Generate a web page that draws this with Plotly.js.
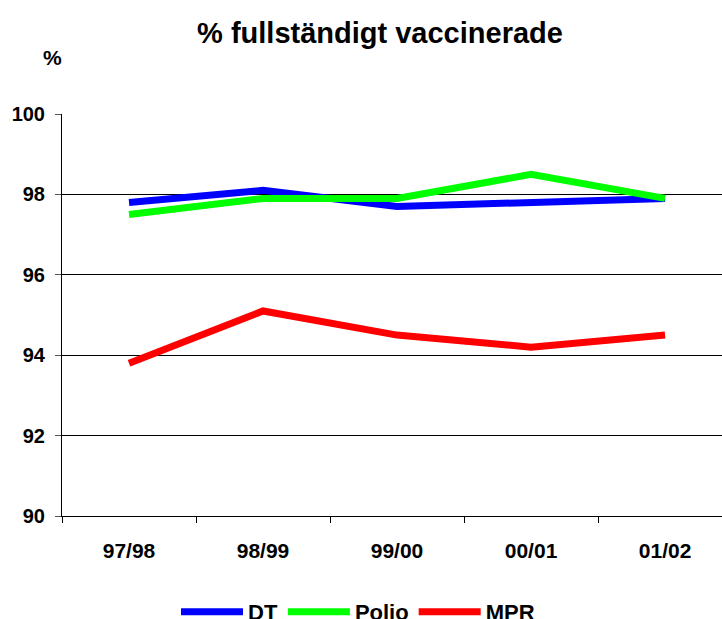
<!DOCTYPE html>
<html>
<head>
<meta charset="utf-8">
<script src="https://cdn.plot.ly/plotly-3.0.1.min.js"></script>
<style>html,body{margin:0;padding:0;background:#fff;}#chart{width:722px;height:619px;}</style>
</head>
<body>
<div id="chart"></div>
<script>
const categories = ["97/98", "98/99", "99/00", "00/01", "01/02"];
const dtValues = [97.8, 98.1, 97.7, 97.8, 97.9];
const polioValues = [97.5, 97.9, 97.9, 98.5, 97.9];
const mprValues = [93.8, 95.1, 94.5, 94.2, 94.5];
const seriesNames = ["DT", "Polio", "MPR"];
const yTicks = [90, 92, 94, 96, 98, 100];

const FONT = "Liberation Sans, Arial, sans-serif";
const colors = ["#0000ff", "#00ff00", "#ff0000"];
const allValues = [dtValues, polioValues, mprValues];

const traces = allValues.map((vals, i) => ({
  type: "scatter",
  mode: "lines",
  x: categories,
  y: vals,
  name: seriesNames[i],
  line: {color: colors[i], width: 7, shape: "linear"},
  hoverinfo: "x+y+name"
}));

const layout = {
  width: 722,
  height: 619,
  margin: {l: 62, r: 0, t: 114, b: 103, pad: 0},
  paper_bgcolor: "#ffffff",
  plot_bgcolor: "#ffffff",
  font: {family: FONT, color: "#000", size: 16, weight: "bold"},
  title: {
    text: "% fullständigt vaccinerade",
    font: {family: FONT, size: 29, color: "#000", weight: "bold"},
    xref: "container", x: 380 / 722, xanchor: "center",
    yref: "container", y: 1 - 33 / 619, yanchor: "middle"
  },
  xaxis: {
    type: "category",
    range: [-0.5, 4.425],
    tickson: "boundaries",
    ticks: "outside",
    ticklen: 6,
    tickcolor: "#000",
    showline: true,
    linecolor: "#000",
    linewidth: 1,
    showgrid: false,
    zeroline: false,
    ticklabelstandoff: 16,
    tickfont: {family: FONT, size: 21, color: "#000", weight: "bold"}
  },
  yaxis: {
    range: [90, 100],
    tickvals: yTicks,
    ticktext: yTicks.map(String),
    ticks: "outside",
    ticklen: 6,
    tickcolor: "#555",
    showline: true,
    linecolor: "#000",
    linewidth: 1,
    showgrid: true,
    gridcolor: "#000",
    gridwidth: 1,
    zeroline: false,
    ticklabelstandoff: 6,
    tickfont: {family: FONT, size: 20, color: "#000", weight: "bold"}
  },
  annotations: [{
    text: "%",
    xref: "paper", yref: "paper",
    x: (52 - 62) / 660, y: (516 - 58) / 402,
    xanchor: "center", yanchor: "middle",
    showarrow: false,
    font: {family: FONT, size: 21, color: "#000", weight: "bold"}
  }],
  legend: {
    orientation: "h",
    xref: "container", yref: "container",
    x: 358 / 722, xanchor: "center",
    y: 1 - 612 / 619, yanchor: "middle",
    font: {family: FONT, size: 22, color: "#000", weight: "bold"},
    itemwidth: 62,
    tracegroupgap: 0,
    bgcolor: "rgba(0,0,0,0)"
  },
  showlegend: true
};

Plotly.newPlot("chart", traces, layout, {displayModeBar: false, staticPlot: true});
</script>
</body>
</html>
